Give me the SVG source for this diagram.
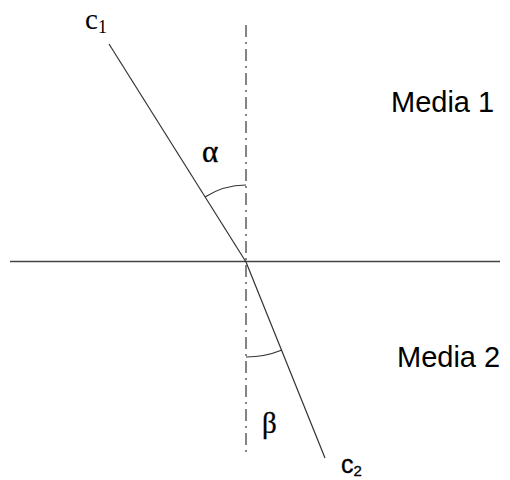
<svg xmlns="http://www.w3.org/2000/svg" width="510" height="480" viewBox="0 0 510 480">
<style>
.ln{stroke:#333;stroke-width:1.2;fill:none}
.axis{stroke:#444;stroke-width:1.3;fill:none}
.normal{stroke:#444;stroke-width:1.3;fill:none;stroke-dasharray:12 5 2 5}
.arc{stroke:#333;stroke-width:1.2;fill:none}
.lbl{font-family:"Liberation Sans",Arial,sans-serif;font-size:29px;fill:#000}
.sym{font-family:"Liberation Serif","Times New Roman",serif;fill:#000}
</style>
<rect width="510" height="480" fill="#fff"/>
<g id="connectors">
<line id="interface" class="axis" x1="10" y1="261.5" x2="500" y2="261.5"/>
<line id="normal" class="normal" x1="246" y1="25" x2="246" y2="457"/>
<line id="incident" class="ln" x1="109" y1="44" x2="246" y2="262"/>
<line id="refracted" class="ln" x1="246" y1="262" x2="325" y2="458"/>
<path id="arc-alpha" class="arc" d="M205,197 A77,77 0 0 1 246,185"/>
<path id="arc-beta" class="arc" d="M246,357 A95,95 0 0 0 282,350"/>
</g>
<g id="media1"><text class="lbl" x="391" y="112">Media 1</text></g>
<g id="media2"><text class="lbl" x="397" y="367">Media 2</text></g>
<g id="c1"><text class="sym" x="85" y="29" font-size="29">c<tspan font-size="18" dy="4">1</tspan></text></g>
<g id="c2"><text x="341" y="473" font-family="Liberation Sans,Arial,sans-serif" font-size="25" stroke="#000" stroke-width="0.3">c<tspan font-size="15" dy="3">2</tspan></text></g>
<g id="alpha"><text class="sym" x="202" y="162" font-size="31" stroke="#000" stroke-width="0.4">α</text></g>
<g id="beta"><text class="sym" x="262" y="433" font-size="29" stroke="#000" stroke-width="0.3">β</text></g>
</svg>
